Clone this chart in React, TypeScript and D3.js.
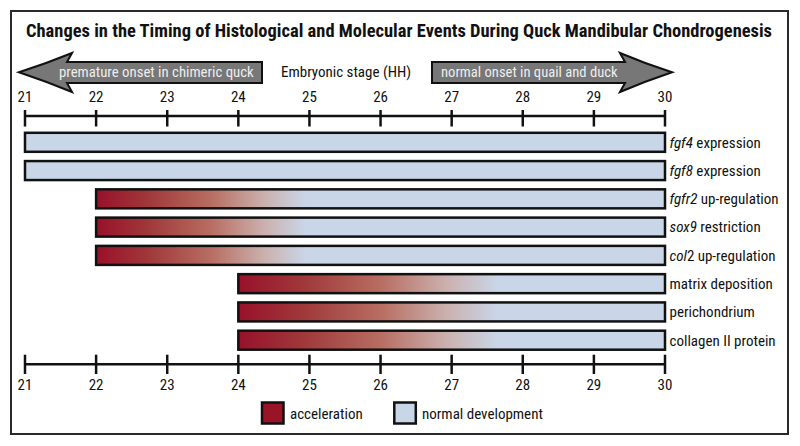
import React from "react";
import * as d3 from "d3";

const stages = [21, 22, 23, 24, 25, 26, 27, 28, 29, 30];
const eventItalic = ["fgf4", "fgf8", "fgfr2", "sox9", "col", "", "", ""];
const eventRest = [" expression", " expression", " up-regulation", " restriction", "2 up-regulation", "matrix deposition", "perichondrium", "collagen II protein"];
const onset = [21, 21, 22, 22, 22, 24, 24, 24];
const endStage = [30, 30, 30, 30, 30, 30, 30, 30];
const accelEnd = [null, null, 24.95, 24.95, 24.95, 27.65, 27.65, 27.65];
const legendLabels = ["acceleration", "normal development"];
const title = "Changes in the Timing of Histological and Molecular Events During Quck Mandibular Chondrogenesis";
const axisTitle = "Embryonic stage (HH)";
const leftArrowText = "premature onset in chimeric quck";
const rightArrowText = "normal onset in quail and duck";

const RED = "#9a1428";
const BLUE = "#c9d6e8";
const FONT = "'Liberation Sans Narrow', 'Arial Narrow', 'Roboto Condensed', sans-serif";

export default function App() {
  const x = d3.scaleLinear().domain([21, 30]).range([25, 665]);
  const rows = d3.range(onset.length);
  const y = d3.scalePoint<number>().domain(rows).range([142.3, 340.2]);
  const barH = 19;

  const leftArrow = "M19,72.3 Q45,64 72,53 L67,62 L262,62 L262,83 L67,83 L72,92 Q45,81 19,72.3 Z";
  const rightArrow = "M672,72.3 Q646,64 620,53 L625,62 L432,62 L432,83 L625,83 L620,92 Q646,81 672,72.3 Z";

  return (
    <svg width={800} height={446} style={{ position: "absolute", left: 0, top: 0, background: "#fff" }} fontFamily={FONT}>
      <defs>
        {rows.map((i) =>
          accelEnd[i] == null ? null : (
            <linearGradient key={i} id={`g${i}`} gradientUnits="userSpaceOnUse" x1={x(onset[i])} x2={x(accelEnd[i] as number)} y1={0} y2={0}>
              <stop offset="0" stopColor="#98112a" />
              <stop offset="0.25" stopColor="#a0383a" />
              <stop offset="0.55" stopColor="#b86e62" />
              <stop offset="0.8" stopColor="#cbb0ae" />
              <stop offset="1" stopColor={BLUE} />
            </linearGradient>
          )
        )}
      </defs>
      <rect x={11} y={11} width={777} height={423} fill="#fff" stroke="#2a2a2a" strokeWidth={2} />
      <text x={26} y={36.7} fontWeight="bold" fontSize={18} fill="#111" textLength={746} lengthAdjust="spacingAndGlyphs">{title}</text>

      <path d={leftArrow} fill="#777" stroke="#111" strokeWidth={2} strokeLinejoin="miter" />
      <path d={rightArrow} fill="#777" stroke="#111" strokeWidth={2} strokeLinejoin="miter" />
      <text x={59} y={76.5} fontSize={14.8} fill="#eee">{leftArrowText}</text>
      <text x={441} y={76.5} fontSize={14.6} fill="#eee">{rightArrowText}</text>
      <text x={346} y={76.5} textAnchor="middle" fontSize={15} fill="#111">{axisTitle}</text>

      {/* top axis */}
      <line x1={x(21)} x2={x(30)} y1={116} y2={116} stroke="#111" strokeWidth={2.5} />
      {stages.map((s) => (
        <g key={"t" + s}>
          <line x1={x(s)} x2={x(s)} y1={110} y2={126.5} stroke="#111" strokeWidth={2.5} />
          <text x={x(s)} y={102} textAnchor="middle" fontSize={15} fill="#111">{s}</text>
        </g>
      ))}

      {/* bars */}
      {rows.map((i) => (
        <g key={"b" + i}>
          <rect
            x={x(onset[i])}
            y={(y(i) as number) - barH / 2}
            width={x(endStage[i]) - x(onset[i])}
            height={barH}
            fill={accelEnd[i] == null ? BLUE : `url(#g${i})`}
            stroke="#111"
            strokeWidth={2.5}
          />
          <text x={669.5} y={(y(i) as number) + 5.3} fontSize={15} fill="#111">
            {eventItalic[i] ? <tspan fontStyle="italic">{eventItalic[i]}</tspan> : null}
            <tspan>{eventRest[i]}</tspan>
          </text>
        </g>
      ))}

      {/* bottom axis */}
      <line x1={x(21)} x2={x(30)} y1={364.3} y2={364.3} stroke="#111" strokeWidth={2.5} />
      {stages.map((s) => (
        <g key={"bt" + s}>
          <line x1={x(s)} x2={x(s)} y1={354.7} y2={374} stroke="#111" strokeWidth={2.5} />
          <text x={x(s)} y={389.5} textAnchor="middle" fontSize={15} fill="#111">{s}</text>
        </g>
      ))}

      {/* legend */}
      <rect x={262} y={402.5} width={21.5} height={21} fill={RED} stroke="#111" strokeWidth={2.5} />
      <text x={290} y={419} fontSize={15} fill="#111">{legendLabels[0]}</text>
      <rect x={394.3} y={402.5} width={21.5} height={21} fill={BLUE} stroke="#111" strokeWidth={2.5} />
      <text x={422} y={419} fontSize={15} fill="#111">{legendLabels[1]}</text>
    </svg>
  );
}
